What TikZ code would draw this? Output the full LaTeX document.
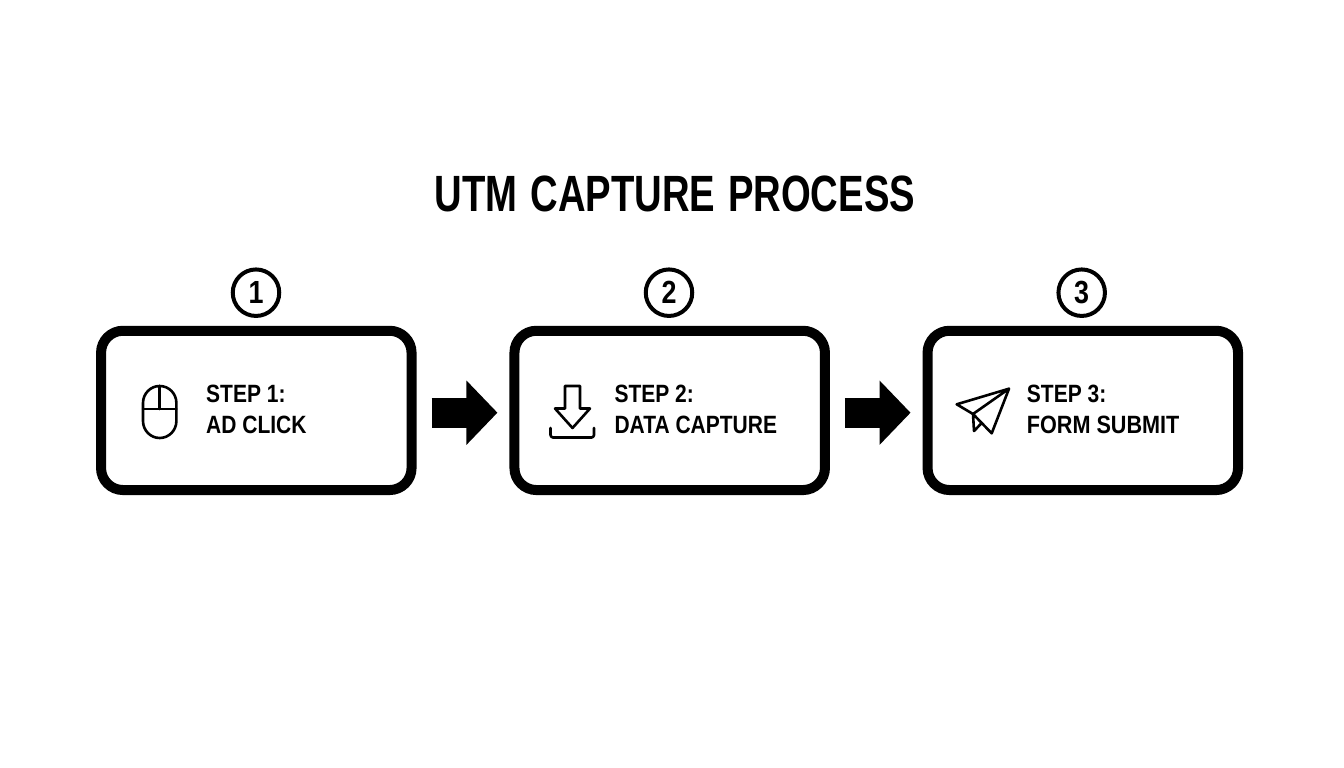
\documentclass[tikz,border=0pt]{standalone}
\usepackage{fontspec}
\setmainfont{Liberation Sans}[FakeStretch=0.84]
\newfontfamily\titlefont{Liberation Sans}[FakeStretch=0.75,WordSpace=1.2]
\newfontfamily\widerfont{Liberation Sans}[FakeStretch=0.865]
\usetikzlibrary{arrows.meta}
\tikzset{
  stepbox/.style={draw=black,line width=10pt,rounded corners=22pt,fill=white,minimum width=310.5pt,minimum height=159.3pt,inner sep=0pt},
  badge/.style={circle,draw=black,line width=4pt,minimum size=46.5pt,inner sep=0pt,font=\fontsize{32}{32}\selectfont\bfseries},
  steptext/.style={anchor=west,align=left,inner sep=0pt,font=\fontsize{25}{31}\selectfont\bfseries},
  flow/.style={line width=30pt,-{Triangle[length=31pt,width=62.5pt]},shorten <=15pt,shorten >=12pt},
  icon/.style={line width=2.6pt,line join=round,line cap=round}
}
\begin{document}
\begin{tikzpicture}[x=1pt,y=-1pt]
\useasboundingbox (0,0) rectangle (1344,768);
\fill[white] (0,0) rectangle (1344,768);
\node[inner sep=0pt,font=\titlefont\fontsize{51}{51}\selectfont\bfseries] (title) at (675,194) {UTM CAPTURE PROCESS};
\node[stepbox] (b1) at (256.3,410.4) {};
\node[stepbox] (b2) at (669.7,410.4) {};
\node[stepbox] (b3) at (1082.8,410.4) {};
\node[badge] (n1) at (256,292.7) {1};
\node[badge] (n2) at (669,292.7) {2};
\node[badge] (n3) at (1081.7,292.7) {3};
\node[steptext] (t1) at (206,409.5) {STEP 1:\\AD CLICK};
\node[steptext] (t2) at (614.3,409.5) {STEP 2:\\DATA CAPTURE};
\node[steptext] (t3) at (1026.7,409.5) {STEP 3:\\{\widerfont FORM SUBMIT}};
\draw[flow] ([yshift=-2.3pt]b1.east) -- ([yshift=-2.3pt]b2.west);
\draw[flow] ([yshift=-2.3pt]b2.east) -- ([yshift=-2.3pt]b3.west);
% mouse
\draw[icon] (143,409) -- (143,403) arc[start angle=180,end angle=360,x radius=16.7,y radius=17] -- (176.4,421) arc[start angle=0,end angle=180,x radius=16.7,y radius=17] -- cycle;
\draw[icon] (143,409) -- (176.4,409) (159.7,386) -- (159.7,409);
% download
\draw[icon] (565,408.5) -- (565,386) -- (580,386) -- (580,408.5) -- (590,408.5) -- (572.5,428) -- (555,408.5) -- cycle;
\draw[icon] (550.5,428) -- (550.5,435) arc[start angle=180,end angle=90,radius=2.5] -- (591.5,437.5) arc[start angle=90,end angle=0,radius=2.5] -- (594,428);
% plane
\draw[icon] (1009,388.7) -- (956.7,404.3) -- (973,414) -- cycle;
\draw[icon] (1009,388.7) -- (991.7,433.3) -- (973,414) -- (974,431) -- (981.7,423);
\end{tikzpicture}
\end{document}
